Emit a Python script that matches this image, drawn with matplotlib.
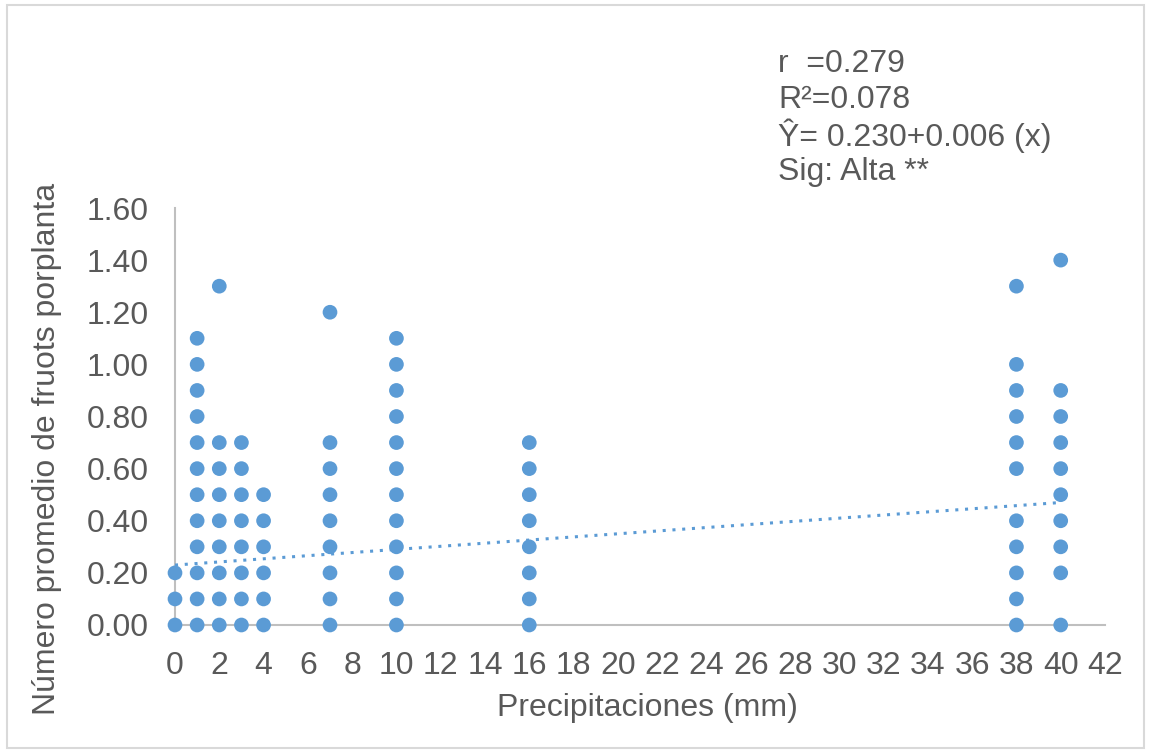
import matplotlib
matplotlib.use("Agg")
import matplotlib.pyplot as plt
from matplotlib.patches import Rectangle

plt.rcParams['font.family'] = ['Liberation Sans', 'DejaVu Sans']

# Rainfall (mm) and the fruit counts recorded at each rainfall level
precip_levels = [0, 1, 2, 3, 4, 7, 10, 16, 38, 40]
fruit_values = [
    [0.0, 0.1, 0.2],
    [0.0, 0.1, 0.2, 0.3, 0.4, 0.5, 0.6, 0.7, 0.8, 0.9, 1.0, 1.1],
    [0.0, 0.1, 0.2, 0.3, 0.4, 0.5, 0.6, 0.7, 1.3],
    [0.0, 0.1, 0.2, 0.3, 0.4, 0.5, 0.6, 0.7],
    [0.0, 0.1, 0.2, 0.3, 0.4, 0.5],
    [0.0, 0.1, 0.2, 0.3, 0.4, 0.5, 0.6, 0.7, 1.2],
    [0.0, 0.1, 0.2, 0.3, 0.4, 0.5, 0.6, 0.7, 0.8, 0.9, 1.0, 1.1],
    [0.0, 0.1, 0.2, 0.3, 0.4, 0.5, 0.6, 0.7],
    [0.0, 0.1, 0.2, 0.3, 0.4, 0.6, 0.7, 0.8, 0.9, 1.0, 1.3],
    [0.0, 0.2, 0.3, 0.4, 0.5, 0.6, 0.7, 0.8, 0.9, 1.4],
]

# Fitted regression
intercept = 0.230
slope = 0.006
trend_x = [0, 40]

x_ticks = list(range(0, 43, 2))
y_ticks = [0.0, 0.2, 0.4, 0.6, 0.8, 1.0, 1.2, 1.4, 1.6]

stats_lines = ["r  =0.279", "R\u00b2=0.078", "\u0176= 0.230+0.006 (x)", "Sig: Alta **"]

blue = "#5B9BD5"
grey_text = "#595959"
axis_grey = "#BFBFBF"
fs = 23

fig = plt.figure(figsize=(11.51, 7.53), dpi=100)
fig.patch.set_facecolor("white")

# chart border
fig.patches.append(Rectangle((7 / 1151, 5 / 753), 1 - 14 / 1151, 1 - 10 / 753,
                             transform=fig.transFigure, fill=False,
                             edgecolor="#D9D9D9", linewidth=1.5))

ax = fig.add_axes([175 / 1151, 1 - 625 / 753, 930 / 1151, 417 / 753])

xs, ys = [], []
for lvl, vals in zip(precip_levels, fruit_values):
    for v in vals:
        xs.append(lvl)
        ys.append(v)

ax.scatter(xs, ys, s=112, color=blue, edgecolors="none", zorder=3, clip_on=False)

trend_y = [intercept + slope * t for t in trend_x]
ax.plot(trend_x, trend_y, color=blue, linewidth=2.2, linestyle=(0, (1, 2.2)),
        zorder=4, clip_on=False)

ax.set_xlim(0, 42)
ax.set_ylim(0, 1.6)
ax.set_xticks(x_ticks)
ax.set_yticks(y_ticks)
ax.set_yticklabels([f"{v:.2f}" for v in y_ticks])

for side in ("top", "right"):
    ax.spines[side].set_visible(False)
for side in ("left", "bottom"):
    ax.spines[side].set_color(axis_grey)
    ax.spines[side].set_linewidth(1.5)

ax.tick_params(axis="both", length=0, labelsize=fs, labelcolor=grey_text, pad=19)

fig.text(647 / 1151, 1 - 708 / 753, "Precipitaciones (mm)", fontsize=fs,
         color=grey_text, ha="center", va="center")
fig.text(47 / 1151, 1 - 449 / 753, "N\u00famero promedio de fruots porplanta",
         fontsize=fs, color=grey_text, ha="center", va="center", rotation=90)

y0 = 1 - 64 / 753
for i, line in enumerate(stats_lines):
    fig.text(778 / 1151, y0 - i * (36 / 753), line, fontsize=fs, color=grey_text,
             ha="left", va="center")

fig.savefig("out.png", dpi=100, facecolor="white")
